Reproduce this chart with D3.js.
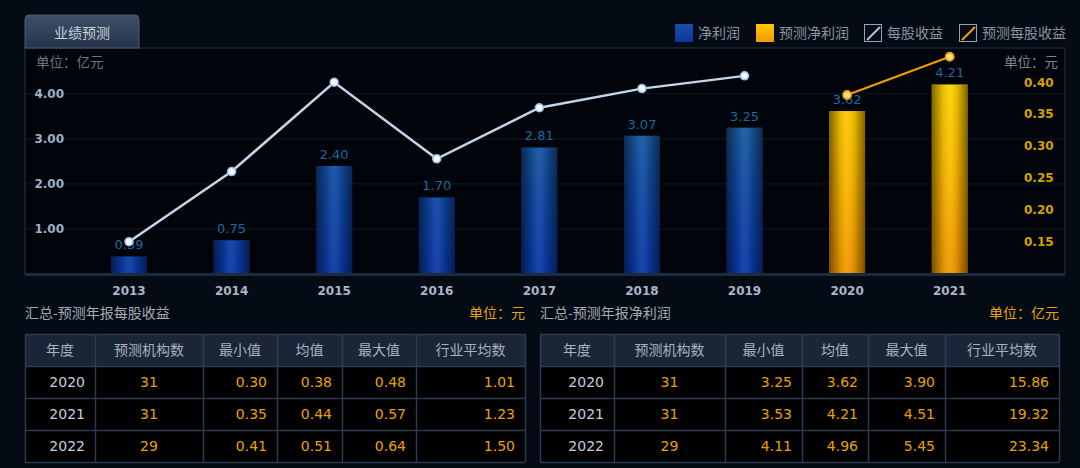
<!DOCTYPE html>
<html><head><meta charset="utf-8">
<script src="https://cdn.jsdelivr.net/npm/d3@7"></script>
<style>
html,body{margin:0;padding:0;background:#050b14;}
svg{display:block}
</style></head><body>
<svg id="c" width="1080" height="468"></svg>
<script>
// ---------- data ----------
const years = ['2013','2014','2015','2016','2017','2018','2019','2020','2021'];
const netProfit = [0.39, 0.75, 2.40, 1.70, 2.81, 3.07, 3.25, 3.62, 4.21];
const eps = [0.15, 0.26, 0.40, 0.28, 0.36, 0.39, 0.41, 0.38, 0.44];
const forecastYears = ['2020','2021'];
const leftTicks = [1, 2, 3, 4];
const rightTicks = [0.15, 0.20, 0.25, 0.30, 0.35, 0.40];
const legendLabels = ['净利润','预测净利润','每股收益','预测每股收益'];
const tableHeaders = ['年度','预测机构数','最小值','均值','最大值','行业平均数'];
const tableYears = ['2020','2021','2022'];
const epsCounts = [31, 31, 29];
const epsMin = [0.30, 0.35, 0.41];
const epsMean = [0.38, 0.44, 0.51];
const epsMax = [0.48, 0.57, 0.64];
const epsIndustry = [1.01, 1.23, 1.50];
const npCounts = [31, 31, 29];
const npMin = [3.25, 3.53, 4.11];
const npMean = [3.62, 4.21, 4.96];
const npMax = [3.90, 4.51, 5.45];
const npIndustry = [15.86, 19.32, 23.34];

// ---------- setup ----------
const svg = d3.select('#c');
const CJK = '"Noto Sans CJK SC","Noto Sans",sans-serif';
const NUM = '"DejaVu Sans",Verdana,sans-serif';
const P = {x0:25, x1:1065, y0:48, y1:274};

const defs = svg.append('defs');
function lg(id, attrs, stops){
  const g = defs.append('linearGradient').attr('id', id);
  Object.entries(attrs).forEach(([k,v])=>g.attr(k,v));
  stops.forEach(s=>g.append('stop').attr('offset',s[0]).attr('stop-color',s[1]).attr('stop-opacity', s[2]==null?1:s[2]));
}
lg('blueV',{gradientUnits:'userSpaceOnUse',x1:0,y1:90,x2:0,y2:274},[[0,'#1f64a0'],[0.55,'#0f48a2'],[1,'#0a38a6']]);
lg('goldV',{gradientUnits:'userSpaceOnUse',x1:0,y1:80,x2:0,y2:274},[[0,'#ffd200'],[0.5,'#fbb800'],[1,'#f29800']]);
lg('shadeH',{x1:0,y1:0,x2:1,y2:0},[[0,'#000',0.5],[0.3,'#000',0.1],[0.5,'#fff',0.06],[0.7,'#000',0.1],[1,'#000',0.5]]);
lg('tabG',{x1:0,y1:0,x2:0,y2:1},[[0,'#3e4f67'],[1,'#25344a']]);
lg('legBlue',{x1:0,y1:0,x2:0,y2:1},[[0,'#1a4fa6'],[1,'#0a36a0']]);
lg('legGold',{x1:0,y1:0,x2:0,y2:1},[[0,'#ffc800'],[1,'#f29a00']]);

// ---------- panel ----------
svg.append('rect').attr('x',P.x0).attr('y',P.y0).attr('width',P.x1-P.x0).attr('height',P.y1-P.y0)
  .attr('fill','#01050b').attr('stroke','#23344a').attr('stroke-width',1);

// tab
const tx0=25, tx1=139, ty0=15, ty1=48, r=4;
svg.append('path')
  .attr('d',`M${tx0},${ty1} L${tx0},${ty0+r} Q${tx0},${ty0} ${tx0+r},${ty0} L${tx1-r},${ty0} Q${tx1},${ty0} ${tx1},${ty0+r} L${tx1},${ty1} Z`)
  .attr('fill','url(#tabG)').attr('stroke','#4a5b74').attr('stroke-width',1);
svg.append('text').attr('x',(tx0+tx1)/2).attr('y',33).attr('dy','0.35em').attr('text-anchor','middle')
  .attr('font-family',CJK).attr('font-size',14).attr('fill','#c9d1da').text('业绩预测');

// ---------- scales ----------
const x = d3.scaleBand().domain(years).range([77.7, 1001]).paddingInner(0.65).paddingOuter(0.325);
const yL = d3.scaleLinear().domain([0, 5.02]).range([P.y1, P.y0]);
const yR = d3.scaleLinear().domain([0.0993, 0.4537]).range([P.y1, P.y0]);

// grid
svg.append('g').selectAll('line').data(leftTicks).join('line')
  .attr('x1',P.x0+1).attr('x2',P.x1-1).attr('y1',d=>yL(d)).attr('y2',d=>yL(d))
  .attr('stroke','#0f1822').attr('stroke-width',1);

// unit labels
svg.append('text').attr('x',36).attr('y',62).attr('dy','0.35em').attr('font-family',CJK).attr('font-size',13.5)
  .attr('fill','#6c7682').text('单位：亿元');
svg.append('text').attr('x',1058).attr('y',62).attr('dy','0.35em').attr('text-anchor','end').attr('font-family',CJK).attr('font-size',13.5)
  .attr('fill','#7b8591').text('单位：元');

// left axis
const axL = d3.axisLeft(yL).tickValues(leftTicks).tickFormat(d3.format('.2f')).tickSize(0).tickPadding(0);
const gL = svg.append('g').attr('transform','translate(64,0)').call(axL);
gL.select('.domain').remove();
gL.selectAll('text').attr('font-family',NUM).attr('font-weight','bold').attr('font-size',12).attr('fill','#9fb0c6');

// right axis
const axR = d3.axisRight(yR).tickValues(rightTicks).tickFormat(d3.format('.2f')).tickSize(0).tickPadding(0);
const gR = svg.append('g').attr('transform','translate(1024,0)').call(axR);
gR.select('.domain').remove();
gR.selectAll('text').attr('font-family',NUM).attr('font-weight','bold').attr('font-size',12).attr('fill','#d6a200');

// bottom axis
const axB = d3.axisBottom(x).tickSize(0).tickPadding(0);
const gB = svg.append('g').attr('transform',`translate(0,${P.y1})`).call(axB);
gB.select('.domain').remove();
gB.selectAll('text').attr('y',17).attr('dy','0.35em').attr('font-family',NUM).attr('font-weight','bold').attr('font-size',12).attr('fill','#aab6c6');

// ---------- bars ----------
const isF = y => forecastYears.includes(y);
const barData = years.map((y,i)=>({y, v:netProfit[i], f:isF(y)}));
const bars = svg.append('g');
bars.selectAll('rect.b').data(barData).join('rect').attr('class','b')
  .attr('x',d=>x(d.y)).attr('width',x.bandwidth()).attr('y',d=>yL(d.v)).attr('height',d=>yL(0)-yL(d.v))
  .attr('fill',d=>d.f?'url(#goldV)':'url(#blueV)');
bars.selectAll('rect.s').data(barData).join('rect').attr('class','s')
  .attr('x',d=>x(d.y)).attr('width',x.bandwidth()).attr('y',d=>yL(d.v)).attr('height',d=>yL(0)-yL(d.v))
  .attr('fill','url(#shadeH)');

// axis bottom line
svg.append('line').attr('x1',P.x0).attr('x2',P.x1).attr('y1',P.y1+0.5).attr('y2',P.y1+0.5)
  .attr('stroke','#1d2b3e').attr('stroke-width',3);

// bar labels
svg.append('g').selectAll('text').data(barData).join('text')
  .attr('x',d=>x(d.y)+x.bandwidth()/2).attr('y',d=>yL(d.v)-7).attr('text-anchor','middle')
  .attr('font-family',NUM).attr('font-size',13).attr('fill','#1a6a9c').text(d=>d.v.toFixed(2));

// ---------- EPS lines ----------
const epsData = years.map((y,i)=>({y, v:eps[i], f:isF(y)}));
const cx = d => x(d.y)+x.bandwidth()/2;
const line = d3.line().x(cx).y(d=>yR(d.v));
const act = epsData.filter(d=>!d.f), fc = epsData.filter(d=>d.f);
svg.append('path').datum(act).attr('d',line).attr('fill','none').attr('stroke','#c2d5ec').attr('stroke-width',2.5);
svg.append('path').datum(fc).attr('d',line).attr('fill','none').attr('stroke','#f0a000').attr('stroke-width',2);
svg.append('g').selectAll('circle').data(act).join('circle')
  .attr('cx',cx).attr('cy',d=>yR(d.v)).attr('r',4).attr('fill','#f4f8ff').attr('stroke','#9cbce0').attr('stroke-width',1.5);
svg.append('g').selectAll('circle').data(fc).join('circle')
  .attr('cx',cx).attr('cy',d=>yR(d.v)).attr('r',4).attr('fill','#ffdc96').attr('stroke','#f2a200').attr('stroke-width',1.8);

// ---------- legend ----------
const legX = [675, 756, 864, 959];
const lgG = svg.append('g');
legendLabels.forEach((t,i)=>{
  const gx = legX[i], gy = 24;
  if(i===0) lgG.append('rect').attr('x',gx).attr('y',gy).attr('width',18).attr('height',18).attr('fill','url(#legBlue)');
  if(i===1) lgG.append('rect').attr('x',gx).attr('y',gy).attr('width',18).attr('height',18).attr('fill','url(#legGold)');
  if(i>=2){
    lgG.append('rect').attr('x',gx+0.5).attr('y',gy+0.5).attr('width',17).attr('height',17).attr('fill','none').attr('stroke','#9aa2ac').attr('stroke-width',1);
    lgG.append('line').attr('x1',gx+3).attr('y1',gy+16).attr('x2',gx+16).attr('y2',gy+3)
      .attr('stroke', i===2?'#a9c6e6':'#f0a000').attr('stroke-width',2);
  }
  lgG.append('text').attr('x',gx+23).attr('y',gy+9).attr('dy','0.35em').attr('font-family',CJK).attr('font-size',14)
    .attr('fill','#8a949f').text(t);
});

// ---------- tables ----------
function drawTable(cols, title, unit, counts, mins, means, maxs, inds){
  const top = 334, rh = 32;
  const g = svg.append('g');
  g.append('text').attr('x',cols[0]).attr('y',313).attr('dy','0.35em').attr('font-family',CJK).attr('font-size',14)
    .attr('fill','#a3abb4').text(title);
  g.append('text').attr('x',cols[cols.length-1]).attr('y',313).attr('dy','0.35em').attr('text-anchor','end')
    .attr('font-family',CJK).attr('font-size',14).attr('fill','#e8a300').text(unit);
  const W = cols[cols.length-1]-cols[0];
  g.append('rect').attr('x',cols[0]).attr('y',top).attr('width',W).attr('height',rh).attr('fill','#1a2638');
  g.append('rect').attr('x',cols[0]).attr('y',top+rh).attr('width',W).attr('height',rh*3).attr('fill','#000');
  // grid lines
  for(let r=0;r<=4;r++) g.append('line').attr('x1',cols[0]).attr('x2',cols[cols.length-1])
    .attr('y1',top+r*rh+0.5).attr('y2',top+r*rh+0.5).attr('stroke','#2b3b52').attr('stroke-width',1.5);
  cols.forEach(c=>g.append('line').attr('x1',c+0.5).attr('x2',c+0.5).attr('y1',top).attr('y2',top+rh*4)
    .attr('stroke','#2b3b52').attr('stroke-width',1.5));
  tableHeaders.forEach((h,j)=>g.append('text').attr('x',(cols[j]+cols[j+1])/2).attr('y',top+rh/2).attr('dy','0.35em')
    .attr('text-anchor','middle').attr('font-family',CJK).attr('font-size',14).attr('fill','#a9b1bb').text(h));
  tableYears.forEach((yr,i)=>{
    const cy = top+rh*(i+1)+rh/2;
    const cells = [yr, String(counts[i]), mins[i].toFixed(2), means[i].toFixed(2), maxs[i].toFixed(2), inds[i].toFixed(2)];
    cells.forEach((c,j)=>{
      const t = g.append('text').attr('y',cy).attr('dy','0.35em').attr('font-family',NUM).attr('font-size',14)
        .attr('fill', j===0?'#c6ced8':'#e8a200').text(c);
      if(j===1) t.attr('x',(cols[j]+cols[j+1])/2).attr('text-anchor','middle');
      else t.attr('x',cols[j+1]-10).attr('text-anchor','end');
    });
  });
}
drawTable([25,95,203,277,342,416,525],'汇总-预测年报每股收益','单位：元',epsCounts,epsMin,epsMean,epsMax,epsIndustry);
drawTable([540,614,725,802,868,945,1059],'汇总-预测年报净利润','单位：亿元',npCounts,npMin,npMean,npMax,npIndustry);
</script>
</body></html>
